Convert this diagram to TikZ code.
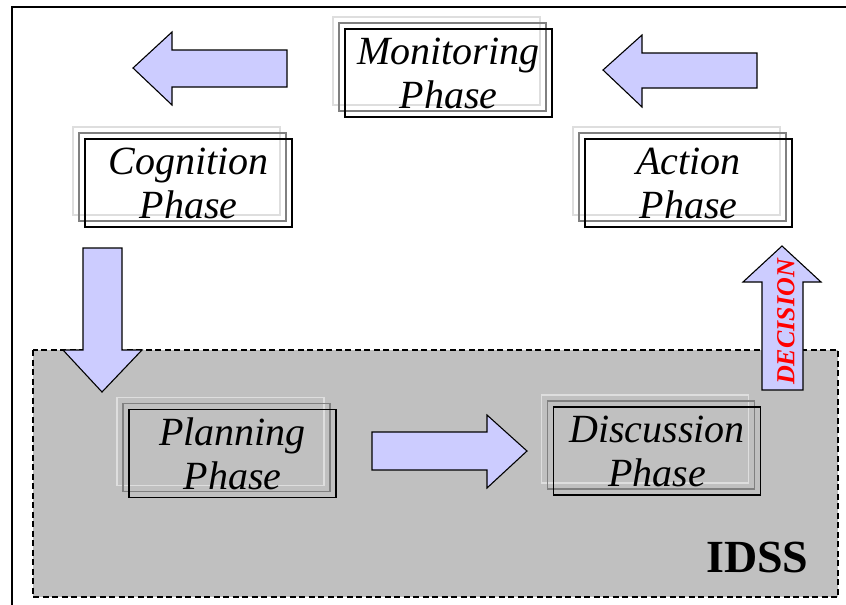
\documentclass[tikz,border=0pt]{standalone}
\usepackage{fontspec}
\setmainfont{Liberation Serif}
\definecolor{arrowfill}{HTML}{CCCCFF}
\definecolor{idssfill}{HTML}{C0C0C0}
\newcommand\phasebox[4]{%
  \draw[shadowlight,shift={(#2-12,#3-12)}] (-103.5,-44) rectangle (103.5,44);
  \draw[shadowmid,shift={(#2-6,#3-6)}] (-103.5,-44) rectangle (103.5,44);
  \node[phase] (#1) at (#2,#3) {\rule{0pt}{23pt}#4};
}
\begin{document}
\begin{tikzpicture}[x=1pt,y=-1pt,
  phase/.style={draw=black, line width=1.4pt, minimum width=207pt, minimum height=88pt, inner sep=0pt, align=center, font=\fontsize{40}{44}\selectfont\itshape},
  shadowlight/.style={draw=black!13, line width=1.4pt},
  shadowmid/.style={draw=black!50, line width=1.4pt},
  blockarrow/.style={draw=black, line width=1.1pt, fill=arrowfill, line join=miter},
  idssbox/.style={draw=black, line width=1.6pt, dash pattern=on 6pt off 3.5pt, fill=idssfill},
]
\useasboundingbox (0,0) rectangle (846,605);
% outer frame
\draw[line width=2pt] (12,610) -- (12,7) -- (850,7);
% IDSS region
\draw[idssbox] (33,350) rectangle (838,597);
% block arrows
\draw[blockarrow] (133,68) -- (172,32) -- (172,50) -- (287,50) -- (287,87) -- (172,87) -- (172,105) -- cycle;
\draw[blockarrow] (603,70) -- (642,35) -- (642,53) -- (757,53) -- (757,88) -- (642,88) -- (642,107) -- cycle;
\draw[blockarrow] (83,248) -- (122,248) -- (122,350) -- (142,350) -- (102,392) -- (63,350) -- (83,350) -- cycle;
\draw[blockarrow] (372,432) -- (487,432) -- (487,415) -- (527,451) -- (487,488) -- (487,470) -- (372,470) -- cycle;
\draw[blockarrow] (762,390) -- (762,282) -- (743,282) -- (782,246) -- (821,282) -- (803,282) -- (803,390) -- cycle;
% phases
\phasebox{monitoring}{448.5}{73}{Monitoring\\Phase}
\phasebox{cognition}{188.5}{183}{Cognition\\Phase}
\phasebox{action}{688.5}{183}{Action\\Phase}
\phasebox{planning}{232.5}{453.5}{Planning\\Phase}
\phasebox{discussion}{657}{451}{Discussion\\Phase}
% labels
\node[anchor=base west, inner sep=0pt, font=\fontsize{46}{55}\selectfont\bfseries] (idsslabel) at (706,572) {IDSS};
\node[rotate=90, inner sep=0pt, text=red, font=\fontsize{26}{30}\selectfont\bfseries\itshape] (decision) at (786,322) {DECISION};
\end{tikzpicture}
\end{document}
